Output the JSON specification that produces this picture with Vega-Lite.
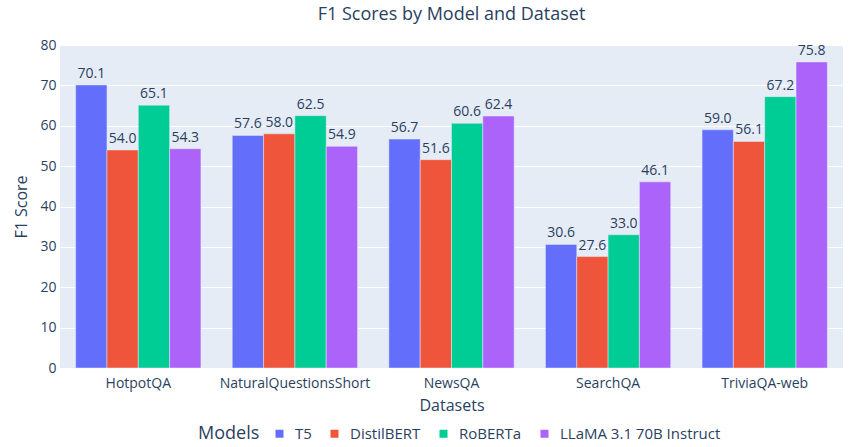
{
  "$schema": "https://vega.github.io/schema/vega-lite/v6.json",
  "width": 783,
  "height": 323,
  "autosize": {"type": "none"},
  "padding": {"left": 60, "top": 45, "right": 7, "bottom": 79},
  "background": "white",
  "config": {
    "font": "Open Sans",
    "view": {"fill": "#E5ECF6", "stroke": null},
    "axis": {"labelColor": "#2a3f5f", "titleColor": "#2a3f5f", "labelFont": "Open Sans", "titleFont": "Open Sans", "titleFontWeight": "normal"},
    "legend": {"labelColor": "#2a3f5f", "titleColor": "#2a3f5f"}
  },
  "title": {"text": "F1 Scores by Model and Dataset", "fontSize": 18, "fontWeight": "normal", "color": "#2a3f5f", "font": "Open Sans", "anchor": "middle", "offset": 14},
  "data": {"values": [
    {"dataset": "HotpotQA", "model": "T5", "f1": 70.1},
    {"dataset": "HotpotQA", "model": "DistilBERT", "f1": 54.0},
    {"dataset": "HotpotQA", "model": "RoBERTa", "f1": 65.1},
    {"dataset": "HotpotQA", "model": "LLaMA 3.1 70B Instruct", "f1": 54.3},
    {"dataset": "NaturalQuestionsShort", "model": "T5", "f1": 57.6},
    {"dataset": "NaturalQuestionsShort", "model": "DistilBERT", "f1": 58.0},
    {"dataset": "NaturalQuestionsShort", "model": "RoBERTa", "f1": 62.5},
    {"dataset": "NaturalQuestionsShort", "model": "LLaMA 3.1 70B Instruct", "f1": 54.9},
    {"dataset": "NewsQA", "model": "T5", "f1": 56.7},
    {"dataset": "NewsQA", "model": "DistilBERT", "f1": 51.6},
    {"dataset": "NewsQA", "model": "RoBERTa", "f1": 60.6},
    {"dataset": "NewsQA", "model": "LLaMA 3.1 70B Instruct", "f1": 62.4},
    {"dataset": "SearchQA", "model": "T5", "f1": 30.6},
    {"dataset": "SearchQA", "model": "DistilBERT", "f1": 27.6},
    {"dataset": "SearchQA", "model": "RoBERTa", "f1": 33.0},
    {"dataset": "SearchQA", "model": "LLaMA 3.1 70B Instruct", "f1": 46.1},
    {"dataset": "TriviaQA-web", "model": "T5", "f1": 59.0},
    {"dataset": "TriviaQA-web", "model": "DistilBERT", "f1": 56.1},
    {"dataset": "TriviaQA-web", "model": "RoBERTa", "f1": 67.2},
    {"dataset": "TriviaQA-web", "model": "LLaMA 3.1 70B Instruct", "f1": 75.8}
  ]},
  "encoding": {
    "x": {"field": "dataset", "type": "nominal", "sort": null,
      "scale": {"paddingInner": 0.2, "paddingOuter": 0.1},
      "axis": {"title": "Datasets", "labelAngle": 0, "labelFontSize": 14, "titleFontSize": 16, "ticks": false, "domain": false, "labelPadding": 8, "titlePadding": 7, "grid": false}},
    "xOffset": {"field": "model", "type": "nominal", "sort": ["T5", "DistilBERT", "RoBERTa", "LLaMA 3.1 70B Instruct"], "scale": {"paddingInner": 0, "paddingOuter": 0}},
    "y": {"field": "f1", "type": "quantitative",
      "scale": {"domain": [0, 80], "nice": false},
      "axis": {"title": "F1 Score", "values": [0, 10, 20, 30, 40, 50, 60, 70, 80], "labelFontSize": 14, "titleFontSize": 16, "ticks": false, "domain": false, "gridColor": "white", "gridWidth": 1, "labelPadding": 4, "titlePadding": 10}}
  },
  "layer": [
    {
      "mark": {"type": "bar", "stroke": "#E5ECF6", "strokeWidth": 0.5},
      "encoding": {
        "color": {"field": "model", "type": "nominal", "sort": ["T5", "DistilBERT", "RoBERTa", "LLaMA 3.1 70B Instruct"],
          "scale": {"range": ["#636EFA", "#EF553B", "#00CC96", "#AB63FA"]},
          "legend": {"title": "Models", "orient": "none", "direction": "horizontal", "titleOrient": "left", "legendX": 138, "legendY": 381,
            "titleFontSize": 18, "titleFontWeight": "normal", "titlePadding": 12, "titleBaseline": "middle", "labelFontSize": 15, "labelLimit": 300, "symbolType": "square", "symbolSize": 64, "symbolStrokeWidth": 0, "labelOffset": 8, "columnPadding": 15}}
      }
    },
    {
      "mark": {"type": "text", "baseline": "bottom", "dy": -4, "fontSize": 14, "color": "#2a3f5f"},
      "encoding": {"text": {"field": "f1", "type": "quantitative", "format": ".1f"}}
    }
  ]
}
